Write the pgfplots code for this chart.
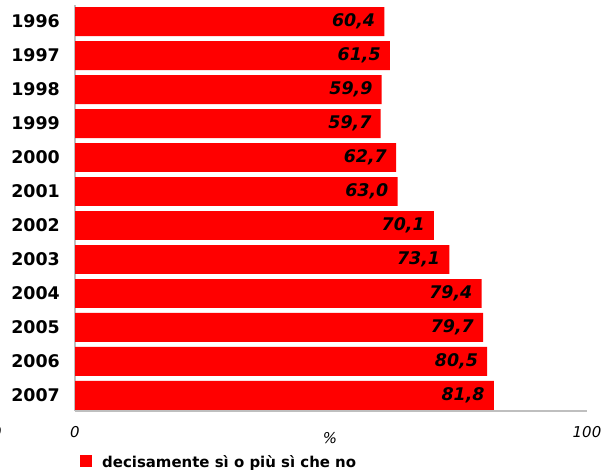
\documentclass[border=0pt]{standalone}
\usepackage{pgfplots}
\pgfplotsset{compat=1.18}
\usepackage{fontspec}
\setmainfont{DejaVu Sans}
\begin{document}
\begin{tikzpicture}
\begin{axis}[
  at={(75bp,59bp)}, anchor=south west,
  scale only axis, width=512bp, height=406bp,
  xbar, bar width=0.85,
  xmin=0, xmax=100, ymin=-0.46, ymax=11.49,
  axis x line*=bottom, axis y line*=left,
  axis line style={draw=black!25, line width=1.2bp, -},
  xtick={0,100}, xticklabels={0,100},
  ytick={0,...,11},
  yticklabels={2007,2006,2005,2004,2003,2002,2001,2000,1999,1998,1997,1996},
  major tick length=0pt,
  xticklabel style={font=\fontsize{15}{15}\selectfont\itshape, anchor=center, inner sep=0pt, yshift=-21bp},
  yticklabel style={font=\fontsize{17.5}{17.5}\selectfont\bfseries, anchor=east, inner sep=0pt, xshift=-15bp},
  nodes near coords,
  point meta=x,
  /pgf/number format/use comma,
  /pgf/number format/fixed,
  /pgf/number format/fixed zerofill,
  /pgf/number format/precision=1,
  /pgf/number format/assume math mode=true,
  every node near coord/.append style={anchor=east, inner sep=0pt, xshift=-9bp, font=\fontsize{17.5}{17.5}\selectfont\bfseries\itshape, text=black},
  clip=false,
]
\addplot[draw=none, fill=red] coordinates {
(60.4,11) (61.5,10) (59.9,9) (59.7,8) (62.7,7) (63.0,6)
(70.1,5) (73.1,4) (79.4,3) (79.7,2) (80.5,1) (81.8,0)};
\end{axis}
\node[font=\fontsize{15}{15}\selectfont\itshape, inner sep=0pt] at (330bp,32bp) {\%};
\node[font=\fontsize{15}{15}\selectfont\itshape, inner sep=0pt] at (-3bp,38bp) {0};
\fill[red] (80bp,3bp) rectangle (92bp,15bp);
\node[font=\fontsize{15}{15}\selectfont\bfseries, inner sep=0pt, anchor=base west] at (102bp,3bp) {decisamente sì o più sì che no};
\pgfresetboundingbox
\useasboundingbox (0,0) rectangle (609bp,470bp);
\end{tikzpicture}
\end{document}
